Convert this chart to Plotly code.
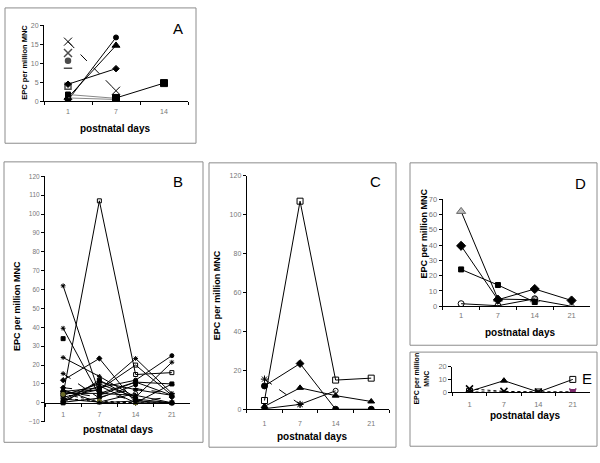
import plotly.graph_objects as go

# ---------------- DATA ----------------
days_a = ["1", "7", "14"]
days = ["1", "7", "14", "21"]

# Panel A
a_up1 = [0.3, 16.8, None]
a_up2 = [1.0, 14.7, None]
a_mid = [4.5, 8.6, None]
a_cross = [15.7, 2.8, None]
a_sq_gray = [1.8, 0.8, None]
a_circ = [0.9, 0.5, None]
a_sq_late = [None, 0.9, 4.8]
a_single_vals = [12.7, 10.7, 8.7, 4.0, 0.0]

# Panel B (all infants)
b_series = [
    [4.5, 107, 15, 16],
    [12, 23.5, 0, 0],
    [1.5, 11, 7, 4],
    [15.5, 2.5, None, None],
    [0.3, 2.5, 9.5, None],
    [62, 5, 4, 0],
    [39.5, 4, 11, 4],
    [24, 14, 3, None],
    [2, 0.4, 5, None],
    [1, 9, 0, 10],
    [2.5, 0.5, 0, 0],
    [34, None, None, None],
    [5, 7, 23.5, 5],
    [6, 8, 12, 25],
    [3, 7, 20, 4],
    [4, 10, 3, 21.5],
    [5, 5, 11, 10],
    [6, 3, 7.5, 5],
    [4.5, 1, 0, None],
    [7, 0, 1, 0],
    [0, 12, 2, 0],
    [8, 6, 1, 3],
]

# Panel C
c_sq = [4.5, 107, 15, 16]
c_dia = [12, 23.5, 0, 0]
c_tri = [1.5, 11, 7, 4]
c_cross = [15.5, 2.5, None, None]
c_low = [0.3, 2.5, 9.5, None]

# Panel D
d_tri = [62, 4.7, 4.3, 0]
d_dia = [39.5, 4.3, 11.3, 3.8]
d_sq = [24.1, 13.9, 2.8, None]
d_circ = [1.7, 0.4, 4.9, None]

# Panel E
e_main = [0.5, 9, 0, 10]
e_cross = [2.5, 0.5, 0, 0]
e_flat = [0, 0.2, 0, 0]

# ---------------- STYLE ----------------
W, H = 600, 463
FONT = "Liberation Sans, Arial, sans-serif"


def px(x):
    return x / W


def py(y):
    return 1 - y / H


fig = go.Figure()


def add(xa, ya, x, y, symbol="circle", dash="solid", color="black",
        mcolor="black", size=5, lw=1):
    fig.add_trace(go.Scatter(
        x=x, y=y, xaxis=xa, yaxis=ya, mode="lines+markers",
        line=dict(color=color, width=lw, dash=dash),
        marker=dict(symbol=symbol, size=size, color=mcolor,
                    line=dict(color=mcolor, width=1)),
        connectgaps=False, showlegend=False, hoverinfo="skip"))


# Panel A
add("x", "y", days_a, a_up1, "circle")
add("x", "y", days_a, a_up2, "triangle-up", size=7)
add("x", "y", days_a, a_mid, "diamond")
add("x", "y", days_a, a_cross, "x-thin-open", dash="dash", size=8)
add("x", "y", days_a, a_sq_gray, "square", color="#888888")
add("x", "y", days_a, a_circ, "circle-open", color="#888888")
add("x", "y", days_a, a_sq_late, "square", size=7)
fig.add_trace(go.Scatter(
    x=["1"] * len(a_single_vals), y=a_single_vals, xaxis="x", yaxis="y",
    mode="markers",
    marker=dict(symbol=["x-thin-open", "circle", "line-ew-open", "square-open", "square"],
                size=[8, 5, 6, 6, 5], color="black", line=dict(color="black", width=1.5)),
    showlegend=False, hoverinfo="skip"))

# Panel B
b_styles = [
    ("square-open", "solid"), ("diamond", "solid"), ("triangle-up", "solid"),
    ("asterisk-open", "dash"), ("circle", "solid"), ("asterisk-open", "solid"),
    ("asterisk-open", "solid"), ("asterisk-open", "solid"), ("circle-open", "solid"),
    ("triangle-up", "solid"), ("x-thin-open", "dot"), ("square", "solid"),
    ("asterisk-open", "solid"), ("circle", "solid"), ("square-open", "solid"),
    ("asterisk-open", "solid"), ("square-dot", "solid"), ("line-ew-open", "dash"),
    ("circle", "dot"), ("triangle-up", "solid"), ("square", "solid"), ("diamond", "dash"),
]
b_colors = ["black"] * len(b_series)
b_colors[18] = "#6b6b2a"
for vals, (sym, dsh), col in zip(b_series, b_styles, b_colors):
    add("x2", "y2", days, vals, sym, dash=dsh, mcolor=col, size=4)

# Panel C
add("x3", "y3", days, c_sq, "square-open", size=6)
add("x3", "y3", days, c_dia, ["circle", "diamond", "circle", "circle"], size=6)
add("x3", "y3", days, c_tri, "triangle-up", size=6)
add("x3", "y3", days, c_cross, "asterisk-open", dash="dash", size=6)
add("x3", "y3", days, c_low, ["circle", "asterisk-open", "circle-open", "circle"], size=5)

# Panel D
add("x4", "y4", days, d_tri, "triangle-up", mcolor="#bbbbbb", size=8)
fig.data[-1].marker.line.color = "#666666"
add("x4", "y4", days, d_dia, "diamond", size=7)
add("x4", "y4", days, d_sq, "square", size=5)
add("x4", "y4", days, d_circ, "circle-open", size=6)

# Panel E
add("x5", "y5", days, e_main, ["square-open", "triangle-up", "square-open", "square-open"], size=6)
add("x5", "y5", days, e_flat, "circle", dash="dot", size=3)
fig.add_trace(go.Scatter(
    x=days, y=e_cross, xaxis="x5", yaxis="y5", mode="lines+markers",
    line=dict(color="black", width=1, dash="dot"),
    marker=dict(symbol="x-thin-open", size=7,
                color=["black", "black", "black", "#7a2a6a"],
                line=dict(color=["black", "black", "black", "#7a2a6a"], width=1.5)),
    showlegend=False, hoverinfo="skip"))
fig.add_trace(go.Scatter(
    x=["21"], y=[0], xaxis="x5", yaxis="y5", mode="markers",
    marker=dict(symbol="square", size=6, color="#7a2a6a"),
    showlegend=False, hoverinfo="skip"))

# ---------------- AXES ----------------


def tf(size):
    return dict(family=FONT, size=size, color="#777777")


def xax(x0, x1, ncat, anchor, position=None, fs=7, standoff=0):
    d = dict(domain=[px(x0), px(x1)], type="category", range=[-0.5, ncat - 0.5],
             showline=True, linecolor="black", linewidth=1, ticks="outside",
             ticklen=3, tickcolor="black", tickson="boundaries", showgrid=False,
             zeroline=False, tickfont=tf(fs), fixedrange=True,
             ticklabelstandoff=standoff)
    if position is not None:
        d.update(anchor="free", position=position)
    else:
        d.update(anchor=anchor)
    return d


def yax(y0, y1, rng, dtick, anchor, fs=7):
    return dict(domain=[py(y0), py(y1)], range=rng, dtick=dtick, tick0=rng[0],
                showline=True, linecolor="black", linewidth=1, ticks="outside",
                ticklen=3, tickcolor="black", showgrid=False, zeroline=False,
                tickfont=tf(fs), anchor=anchor, fixedrange=True)


fig.update_layout(
    xaxis=xax(44, 188, 3, "y", standoff=3),
    yaxis=yax(99.3, 21.7, [0, 20], 5, "x"),
    xaxis2=xax(45, 190, 4, None, position=py(406.7), standoff=5),
    yaxis2=yax(426, 175.7, [-10, 120], 10, "x2", fs=6.5),
    xaxis3=xax(246.7, 389, 4, "y3", standoff=7),
    yaxis3=yax(413.3, 175.3, [0, 120], 20, "x3"),
    xaxis4=xax(442.7, 590, 4, "y4", fs=7.5, standoff=2),
    yaxis4=yax(308.3, 199, [0, 70], 10, "x4", fs=7.5),
    xaxis5=xax(452.3, 590, 4, "y5", fs=7.5, standoff=5),
    yaxis5=yax(395.7, 370, [0, 20], 10, "x5", fs=7.5),
)

# panel boxes
boxes = [(5, 4, 196, 142), (4, 161, 203, 447), (209, 162, 396, 452),
         (410, 162, 597, 348), (410, 355, 597, 451)]
for x0, y0, x1, y1 in boxes:
    fig.add_shape(type="rect", xref="paper", yref="paper",
                  x0=px(x0), y0=py(y0), x1=px(x1), y1=py(y1),
                  line=dict(color="#8c8c8c", width=1), layer="below")

annotations = []


def txt(x, y, s, size, bold=False, angle=0, color="black"):
    annotations.append(dict(
        x=px(x), y=py(y), xref="paper", yref="paper", text=f"<b>{s}</b>" if bold else s,
        showarrow=False, textangle=angle, xanchor="center", yanchor="middle",
        font=dict(family=FONT, size=size, color=color)))


# panel letters
for (x, y, s) in [(178, 25, "A"), (178, 181, "B"), (375, 181, "C"), (580, 183, "D"), (587, 382, "E")]:
    txt(x, y, s, 15)

# x titles
for (x, y) in [(115, 127), (118, 434), (312, 441), (520, 335), (525, 420)]:
    txt(x, y, "postnatal days", 10, bold=True)

# y titles
txt(25, 60, "EPC per million MNC", 7.5, bold=True, angle=-90)
txt(17, 308, "EPC per million MNC", 9, bold=True, angle=-90)
txt(217, 297, "EPC per million MNC", 9, bold=True, angle=-90)
txt(424, 234, "EPC per million MNC", 9, bold=True, angle=-90)
txt(421, 382, "EPC per million<br>MNC", 7, bold=True, angle=-90)

fig.update_layout(
    width=W, height=H, margin=dict(l=0, r=0, t=0, b=0),
    paper_bgcolor="white", plot_bgcolor="white",
    annotations=annotations, font=dict(family=FONT),
)

fig.write_html("out.html", config={"displayModeBar": False},
               post_script="document.body.style.margin='0';document.body.style.overflow='hidden';")
